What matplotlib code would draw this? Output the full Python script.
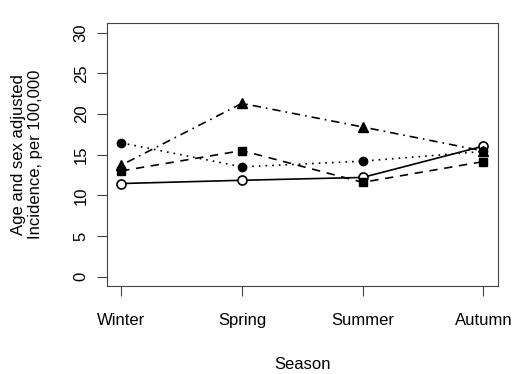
import matplotlib
matplotlib.use("Agg")
import matplotlib.pyplot as plt

plt.rcParams['font.family'] = ['Liberation Sans', 'DejaVu Sans']

seasons = ["Winter", "Spring", "Summer", "Autumn"]
open_circle = [11.45, 11.85, 12.2, 16.05]
filled_circle = [16.45, 13.5, 14.2, 15.4]
filled_square = [13.0, 15.5, 11.6, 14.15]
filled_triangle = [13.7, 21.3, 18.4, 15.45]
y_ticks = [0, 5, 10, 15, 20, 25, 30]

fig = plt.figure(figsize=(5.23, 3.74), dpi=100)
ax = fig.add_axes([0.204, 0.234, 0.748, 0.705])

x = range(len(seasons))
lw = 1.2
ax.plot(x, open_circle, color="black", lw=lw, marker="o", ms=6.5,
        mfc="white", mec="black", mew=1.2)
ax.plot(x, filled_circle, color="black", lw=lw, marker="o", ms=6,
        dashes=(1, 3))
ax.plot(x, filled_square, color="black", lw=lw, marker="s", ms=6,
        dashes=(5, 4))
ax.plot(x, filled_triangle, color="black", lw=lw, marker="^", ms=7,
        dashes=(1, 3, 5, 3))

ax.set_xlim(-0.12, 3.12)
ax.set_ylim(-1.2, 31.2)
ax.set_xticks(list(x))
ax.set_xticklabels(seasons, fontsize=12)
ax.set_yticks(y_ticks)
ax.set_yticklabels([str(v) for v in y_ticks], fontsize=12, rotation=90, va="center")
ax.tick_params(direction="out", length=7, width=0.8, color="#444444", pad=6)
ax.tick_params(axis="x", pad=12)
for s in ax.spines.values():
    s.set_color("#444444")
    s.set_linewidth(0.8)

ax.set_xlabel("Season", fontsize=12, labelpad=21)
ax.set_ylabel("Age and sex adjusted\nIncidence, per 100,000", fontsize=12, labelpad=22)

fig.savefig("out.png", dpi=100)
